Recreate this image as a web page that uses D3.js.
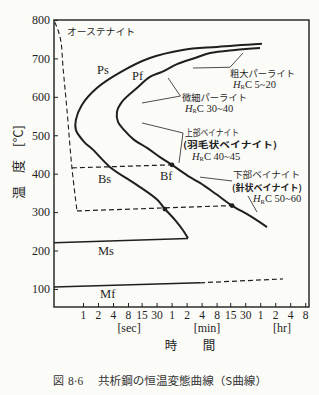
<!DOCTYPE html>
<html>
<head>
<meta charset="utf-8">
<script src="https://cdn.jsdelivr.net/npm/d3@7"></script>
<style>
    html, body { margin: 0; padding: 0; background: #fbfbf8; }
    svg { display: block; }
</style>
</head>
<body>
<svg id="chart" width="319" height="395"></svg>
<script>
// ===== DATA =====
// time axis is log, in seconds
const tickSeconds = [1, 2, 4, 8, 15, 30, 60, 120, 240, 480, 900, 1800, 3600, 7200, 14400, 28800];
const tickLabels  = ['1', '2', '4', '8', '15', '30', '1', '2', '4', '8', '15', '30', '1', '2', '4', '8'];
const tempTicks   = [100, 200, 300, 400, 500, 600, 700, 800];

// Ps : pearlite / bainite start
const psTime = [3900, 490, 100, 22, 5.8, 1.9, 0.95, 0.72, 0.72, 1.05, 1.6, 3.5, 12, 31, 44, 70, 100, 128];
const psTemp = [738, 730, 722, 701, 665, 623, 579, 540, 514, 483, 462, 417, 371, 332, 308, 280, 254, 232];

// Pf : pearlite / bainite finish
const pfTime = [3570, 1120, 354, 177, 77, 38.5, 22, 12.1, 6.06, 4.81, 5.04, 6.65, 10.6, 19.3, 35.1, 61, 140, 223, 467, 978, 2250, 4930];
const pfTemp = [727, 722, 714, 701, 685, 665, 652, 623, 587, 561, 535, 514, 488, 467, 443, 423, 391, 376, 347, 317, 290, 261];

// austenite boundary (dashed)
const austTime = [0.27, 0.315, 0.362, 0.397, 0.477, 0.60, 0.758];
const austTemp = [795, 774, 743, 678, 566, 415, 303];

// Bs-Bf and lower bainite isotherms (dashed)
const upperIsoTime = [0.60, 61];
const upperIsoTemp = [415, 423];
const lowerIsoTime = [0.758, 978];
const lowerIsoTemp = [303, 317];

// Ms / Mf
const msTime = [0.262, 128];
const msTemp = [220, 231];
const mfTime = [0.262, 223];
const mfTemp = [105, 116];
const mfDashTime = [223, 10300];
const mfDashTemp = [116, 126];

// marked points
const dotTime = [61, 44, 978];
const dotTemp = [423, 308, 317];

// ===== SETUP =====
const svg = d3.select('#chart');
const ink   = '#1f1f1f';
const serif = '"Liberation Serif", "DejaVu Serif", serif';
const jp    = '"Noto Sans CJK JP", sans-serif';

const x = d3.scaleLog().domain([0.262, 34300]).range([54, 309]);
const y = d3.scaleLinear().domain([53, 800]).range([307, 20]);

const line = d3.line()
    .x(d => x(d[0]))
    .y(d => y(d[1]));
const smooth = d3.line()
    .x(d => x(d[0]))
    .y(d => y(d[1]))
    .curve(d3.curveCatmullRom.alpha(0.5));

// ===== FRAME + AXES =====
svg.append('rect')
    .attr('x', x.range()[0])
    .attr('y', y(800))
    .attr('width', x.range()[1] - x.range()[0])
    .attr('height', y.range()[0] - y(800))
    .attr('fill', 'none')
    .attr('stroke', ink)
    .attr('stroke-width', 1.4);

svg.append('g')
    .attr('transform', `translate(${x.range()[0]},0)`)
    .call(d3.axisLeft(y).tickValues(tempTicks).tickSizeInner(-4).tickSizeOuter(0).tickPadding(4))
    .attr('font-family', serif)
    .attr('font-size', 12)
    .call(g => g.select('.domain').remove())
    .call(g => g.selectAll('line').attr('stroke', ink))
    .call(g => g.selectAll('text').attr('fill', ink));

svg.append('g')
    .attr('transform', `translate(0,${y.range()[0]})`)
    .call(d3.axisBottom(x).tickValues(tickSeconds).tickFormat((d, i) => tickLabels[i])
        .tickSizeInner(-4).tickSizeOuter(0).tickPadding(4))
    .attr('font-family', serif)
    .attr('font-size', 11.5)
    .call(g => g.select('.domain').remove())
    .call(g => g.selectAll('line').attr('stroke', ink))
    .call(g => g.selectAll('text').attr('fill', ink));

// unit labels under the time axis
const units = [
    { text: '[sec]', t: 8.4 },
    { text: '[min]', t: 308 },
    { text: '[hr]',  t: 9850 },
];
svg.selectAll('.unit')
    .data(units)
    .enter().append('text')
    .attr('x', d => x(d.t))
    .attr('y', 332)
    .attr('text-anchor', 'middle')
    .attr('font-family', serif)
    .attr('font-size', 12)
    .attr('fill', ink)
    .text(d => d.text);

// axis titles
svg.append('text')
    .attr('x', 171).attr('y', 350)
    .attr('text-anchor', 'middle')
    .attr('font-family', jp).attr('font-size', 12.5).attr('fill', ink)
    .text('時');
svg.append('text')
    .attr('x', 209).attr('y', 350)
    .attr('text-anchor', 'middle')
    .attr('font-family', jp).attr('font-size', 12.5).attr('fill', ink)
    .text('間');

svg.append('text')
    .attr('transform', 'translate(23,162) rotate(-90)')
    .attr('text-anchor', 'middle')
    .attr('font-family', jp).attr('font-size', 13).attr('fill', ink)
    .text('温　度　[°C]');

// ===== CURVES =====
svg.append('path')
    .datum(d3.zip(austTime, austTemp))
    .attr('d', smooth)
    .attr('fill', 'none').attr('stroke', ink)
    .attr('stroke-width', 1.1).attr('stroke-dasharray', '5,3');

[[upperIsoTime, upperIsoTemp], [lowerIsoTime, lowerIsoTemp], [mfDashTime, mfDashTemp]].forEach(([t, T]) => {
    svg.append('path')
        .datum(d3.zip(t, T))
        .attr('d', line)
        .attr('fill', 'none').attr('stroke', ink)
        .attr('stroke-width', 1.2).attr('stroke-dasharray', '5,3');
});

[[msTime, msTemp], [mfTime, mfTemp]].forEach(([t, T]) => {
    svg.append('path')
        .datum(d3.zip(t, T))
        .attr('d', line)
        .attr('fill', 'none').attr('stroke', ink)
        .attr('stroke-width', 1.5);
});

[[psTime, psTemp], [pfTime, pfTemp]].forEach(([t, T]) => {
    svg.append('path')
        .datum(d3.zip(t, T))
        .attr('d', smooth)
        .attr('fill', 'none').attr('stroke', ink)
        .attr('stroke-width', 2);
});

svg.selectAll('.dot')
    .data(d3.zip(dotTime, dotTemp))
    .enter().append('circle')
    .attr('cx', d => x(d[0]))
    .attr('cy', d => y(d[1]))
    .attr('r', 2.4)
    .attr('fill', ink);

// ===== LABELS =====
const curveLabels = [
    { text: 'Ps', t: 1.91, T: 659 },
    { text: 'Pf', t: 9.6,  T: 644 },
    { text: 'Bs', t: 2.0,  T: 376 },
    { text: 'Bf', t: 35,   T: 384 },
    { text: 'Ms', t: 2.0,  T: 188 },
    { text: 'Mf', t: 2.2,  T: 77 },
];
svg.selectAll('.clabel')
    .data(curveLabels)
    .enter().append('text')
    .attr('x', d => x(d.t))
    .attr('y', d => y(d.T))
    .attr('font-family', serif)
    .attr('font-size', 12.5)
    .attr('fill', ink)
    .text(d => d.text);

svg.append('text')
    .attr('x', x(0.477)).attr('y', y(761))
    .attr('font-family', jp).attr('font-size', 9.5)
    .attr('textLength', 68).attr('lengthAdjust', 'spacingAndGlyphs')
    .attr('fill', ink)
    .text('オーステナイト');

// structure notes on the right
const notes = [
    { text: '粗大パーライト',      t: 891,   T: 652, w: 65 },
    { text: '微細パーライト',      t: 97,    T: 590, w: 65 },
    { text: '上部ベイナイト',      t: 111,   T: 497, w: 54 },
    { text: '(羽毛状ベイナイト)', t: 101.6, T: 467, w: 94, bold: true },
    { text: '下部ベイナイト',      t: 1024,  T: 390, w: 67 },
    { text: '(針状ベイナイト)',   t: 978,   T: 354, w: 70, bold: true },
];
svg.selectAll('.note')
    .data(notes)
    .enter().append('text')
    .attr('x', d => x(d.t))
    .attr('y', d => y(d.T))
    .attr('font-family', jp)
    .attr('font-size', 9)
    .attr('font-weight', d => d.bold ? 700 : 400)
    .attr('textLength', d => d.w)
    .attr('lengthAdjust', 'spacingAndGlyphs')
    .attr('fill', ink)
    .text(d => d.text);

// hardness notes: H_R C
const hardness = [
    { range: '5~20',  t: 1024, T: 624 },
    { range: '30~40', t: 111,  T: 561 },
    { range: '40~45', t: 154,  T: 436 },
    { range: '50~60', t: 2580, T: 325 },
];
const hrc = svg.selectAll('.hrc')
    .data(hardness)
    .enter().append('text')
    .attr('x', d => x(d.t))
    .attr('y', d => y(d.T))
    .attr('font-family', serif)
    .attr('font-size', 10.5)
    .attr('fill', ink);
hrc.append('tspan').attr('font-style', 'italic').text('H');
hrc.append('tspan').attr('font-size', 6.5).attr('dy', 1.5).text('R');
hrc.append('tspan').attr('dy', -1.5).text(d => 'C ' + d.range);

// leader lines
const leaders = [
    [[161, 675], [891, 677], [1626, 714]],
    [[15.3, 584], [90, 602]],
    [[51, 649], [90, 602]],
    [[15.3, 532], [101.6, 506]],
    [[101.6, 506], [84.4, 428]],
    [[223, 391], [978, 381]],
    [[2048, 342], [3104, 300]],
];
svg.selectAll('.leader')
    .data(leaders)
    .enter().append('path')
    .attr('d', line)
    .attr('fill', 'none')
    .attr('stroke', ink)
    .attr('stroke-width', 0.8);

// ===== CAPTION =====
const cap = svg.append('g').attr('fill', '#333');
cap.append('text')
    .attr('x', 53).attr('y', 385)
    .attr('font-family', jp).attr('font-size', 11)
    .text('図');
cap.append('text')
    .attr('x', 68).attr('y', 385)
    .attr('font-family', serif).attr('font-size', 11.5)
    .text('8·6');
cap.append('text')
    .attr('x', 98).attr('y', 385)
    .attr('font-family', jp).attr('font-size', 11)
    .attr('textLength', 169).attr('lengthAdjust', 'spacingAndGlyphs')
    .text('共析鋼の恒温変態曲線（S曲線）');
</script>
</body>
</html>
